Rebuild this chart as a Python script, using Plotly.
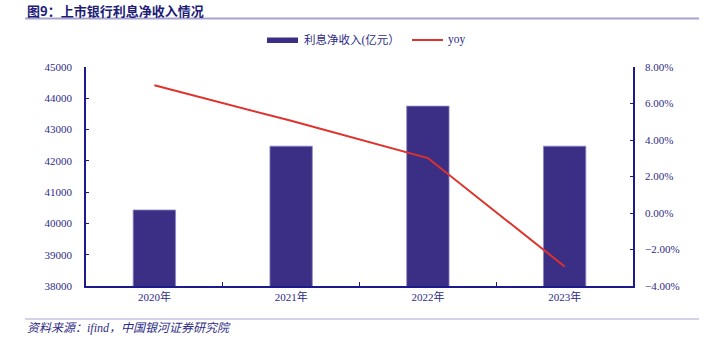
import plotly.graph_objects as go

# Data
years = ["2020年", "2021年", "2022年", "2023年"]
net_interest_income = [40430, 42470, 43750, 42470]  # 亿元
yoy = [0.0700, 0.0505, 0.0301, -0.0293]

title_text = "图9：上市银行利息净收入情况"
source_text = "资料来源：ifind，中国银河证券研究院"
bar_name = "利息净收入(亿元）"
line_name = "yoy"

NAVY = "#1c1a8c"
LABEL = "#2e2b86"
BAR = "#3b2f85"
RED = "#e0322c"
RULE = "#a8a2cf"
SERIF = "Liberation Serif, Noto Sans CJK SC"

fig = go.Figure()
fig.add_trace(go.Bar(
    x=years, y=net_interest_income, name=bar_name,
    marker=dict(color=BAR, line=dict(color="#8f88c4", width=0.8)),
    width=0.31, showlegend=False,
))
fig.add_trace(go.Scatter(
    x=years, y=yoy, name=line_name, yaxis="y2", mode="lines",
    line=dict(color=RED, width=2), showlegend=False,
))

fig.update_layout(
    width=712, height=341,
    margin=dict(l=86, r=79, t=67, b=55),
    paper_bgcolor="white", plot_bgcolor="white",
    font=dict(family=SERIF, size=11, color=LABEL),
    xaxis=dict(
        type="category", showline=True, linecolor=NAVY, linewidth=1.5,
        ticks="inside", tickson="boundaries", ticklen=4, tickcolor=NAVY,
        showgrid=False, tickfont=dict(size=11, color=LABEL),
    ),
    yaxis=dict(
        range=[38000, 45000], dtick=1000, tickformat="d", showline=True,
        linecolor=NAVY, linewidth=1.5, ticks="inside", ticklen=3,
        tickcolor=NAVY, showgrid=False, zeroline=False, ticklabelstandoff=10,
        tickfont=dict(size=11, color=LABEL),
    ),
    yaxis2=dict(
        overlaying="y", side="right", range=[-0.04, 0.08], dtick=0.02,
        tickformat=".2%", showline=True, linecolor=NAVY, linewidth=1.5,
        ticks="inside", ticklen=3, tickcolor=NAVY, showgrid=False,
        zeroline=False, ticklabelstandoff=8,
        tickfont=dict(size=11, color=LABEL),
    ),
    bargap=0.69,
)

shapes = [
    # rule under the title
    dict(type="line", xref="paper", yref="paper", x0=(25-86)/547, x1=(699-86)/547,
         y0=1 + (67-18.5)/219, y1=1 + (67-18.5)/219, line=dict(color=RULE, width=2)),
    # rule above the source note
    dict(type="line", xref="paper", yref="paper", x0=(25-86)/547, x1=(699-86)/547,
         y0=-(319-286)/219, y1=-(319-286)/219, line=dict(color=RULE, width=1.2)),
    # legend swatches
    dict(type="rect", xref="paper", yref="paper", x0=(267-86)/547, x1=(298-86)/547,
         y0=1 + (67-43)/219, y1=1 + (67-37.5)/219, fillcolor=BAR, line=dict(width=0)),
    dict(type="line", xref="paper", yref="paper", x0=(412-86)/547, x1=(443-86)/547,
         y0=1 + (67-40)/219, y1=1 + (67-40)/219, line=dict(color=RED, width=2)),
]
fig.update_layout(shapes=shapes)

annotations = [
    dict(text="<b>" + title_text + "</b>", xref="paper", yref="paper",
         x=(25-86)/547, y=1 + (67-10)/219, xanchor="left", yanchor="middle",
         showarrow=False, font=dict(family="Noto Sans CJK SC", size=13, color="#211c78")),
    dict(text=bar_name, xref="paper", yref="paper",
         x=(302-86)/547, y=1 + (67-40)/219, xanchor="left", yanchor="middle",
         showarrow=False, font=dict(family=SERIF, size=11.5, color=LABEL)),
    dict(text=line_name, xref="paper", yref="paper",
         x=(446-86)/547, y=1 + (67-40)/219, xanchor="left", yanchor="middle",
         showarrow=False, font=dict(family=SERIF, size=11.5, color=LABEL)),
    dict(text="<i>" + source_text + "</i>", xref="paper", yref="paper",
         x=(25-86)/547, y=-(328-286)/219, xanchor="left", yanchor="middle",
         showarrow=False, font=dict(family=SERIF, size=12, color=LABEL)),
]
fig.update_layout(annotations=annotations)

fig.write_html("out.html")
